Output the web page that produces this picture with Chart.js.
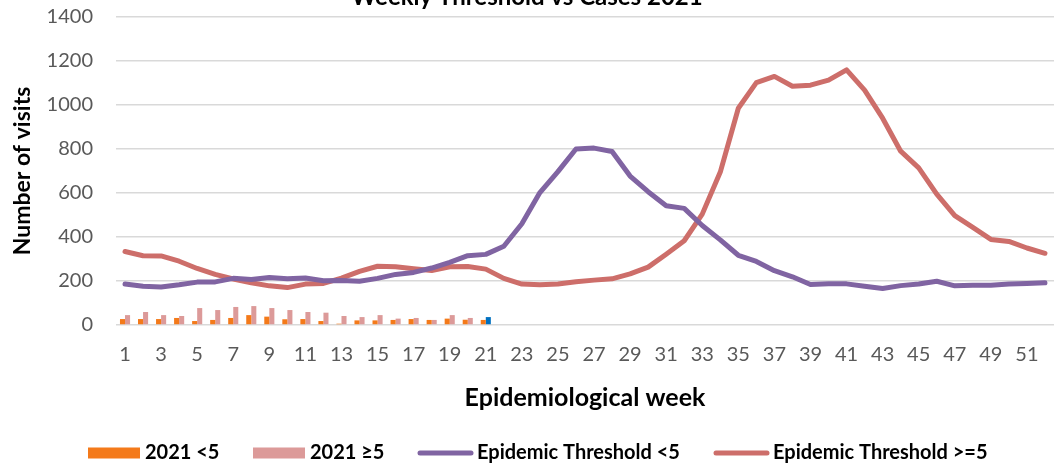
<!DOCTYPE html>
<html>
<head>
<meta charset="utf-8">
<script src="https://cdn.jsdelivr.net/npm/chart.js@4/dist/chart.umd.min.js"></script>
<style>
  html, body { margin: 0; padding: 0; background: #fff; }
  #wrap { width: 1056px; height: 464px; position: relative; }
</style>
</head>
<body>
<div id="wrap"><canvas id="chart" width="1056" height="464"></canvas></div>
<script>
// weeks 1..52
const weeks = [];
for (let w = 1; w <= 52; w++) weeks.push(String(w));

// 2021 cases (weeks 1-21 reported)
const cases2021Under5 = [27, 27, 27, 32, 18, 23, 32, 45, 38, 26, 27, 18, 6, 21, 21, 23, 27, 23, 29, 24, 23];
const cases2021Over5 = [45, 59, 45, 41, 77, 68, 82, 86, 77, 68, 59, 56, 41, 36, 45, 29, 32, 23, 45, 32, 36];

// epidemic thresholds
const thresholdUnder5 = [186, 176, 173, 183, 195, 196, 212, 207, 216, 210, 214, 201, 202, 199, 212, 230, 239, 259, 285, 315,
  321, 358, 460, 602, 697, 800, 804, 789, 677, 606, 542, 530, 452, 387, 317, 289, 247, 219, 184, 187,
  187, 176, 166, 179, 186, 199, 178, 181, 181, 186, 189, 192];
const thresholdOver5 = [334, 315, 314, 290, 257, 230, 209, 192, 178, 170, 186, 189, 213, 244, 267, 265, 256, 248, 265, 266,
  254, 212, 186, 183, 186, 197, 204, 210, 232, 263, 322, 383, 504, 695, 985, 1102, 1130, 1085, 1090, 1113,
  1160, 1068, 940, 790, 714, 595, 497, 444, 389, 380, 350, 326];

const yTicks = [0, 200, 400, 600, 800, 1000, 1200, 1400];

const ORANGE = '#F47A1A';
const PINK = '#DC9A99';
const BLUE = '#0070C0';
const PURPLE = '#8064A2';
const RED = '#CD6E6A';
const FONT = 'Lato, "Open Sans", sans-serif';

// last reported week is highlighted in blue
const pinkColors = cases2021Over5.map((v, i) => i === cases2021Over5.length - 1 ? BLUE : PINK);

// legend: symbol start x, kind
const legendItems = [
  { label: '2021 <5', color: ORANGE, kind: 'box', x: 88 },
  { label: '2021 \u22655', color: PINK, kind: 'box', x: 253 },
  { label: 'Epidemic Threshold <5', color: PURPLE, kind: 'line', x: 417 },
  { label: 'Epidemic Threshold >=5', color: RED, kind: 'line', x: 713 }
];

// cut-off title + legend at the bottom
const extras = {
  id: 'extras',
  afterDraw(chart) {
    const ctx = chart.ctx;
    ctx.save();
    ctx.fillStyle = '#000';
    ctx.font = 'bold 24px ' + FONT;
    ctx.textAlign = 'center';
    ctx.textBaseline = 'alphabetic';
    ctx.fillText('Weekly Threshold vs Cases 2021', 527, 5);

    ctx.font = 'bold 20px ' + FONT;
    ctx.textAlign = 'left';
    ctx.textBaseline = 'middle';
    const y = 453;
    legendItems.forEach(it => {
      let tx;
      if (it.kind === 'box') {
        ctx.fillStyle = it.color;
        ctx.fillRect(it.x, y - 5.5, 52, 11);
        tx = it.x + 57;
      } else {
        ctx.strokeStyle = it.color;
        ctx.lineWidth = 5;
        ctx.lineCap = 'round';
        ctx.beginPath();
        ctx.moveTo(it.x + 3, y);
        ctx.lineTo(it.x + 54, y);
        ctx.stroke();
        tx = it.x + 60;
      }
      ctx.fillStyle = '#000';
      ctx.fillText(it.label, tx, y);
    });
    ctx.restore();
  }
};

new Chart(document.getElementById('chart'), {
  type: 'bar',
  data: {
    labels: weeks,
    datasets: [
      { type: 'bar', label: '2021 <5', data: cases2021Under5, backgroundColor: ORANGE, order: 2,
        categoryPercentage: 0.56, barPercentage: 1 },
      { type: 'bar', label: '2021 \u22655', data: cases2021Over5, backgroundColor: pinkColors, order: 2,
        categoryPercentage: 0.56, barPercentage: 1 },
      { type: 'line', label: 'Epidemic Threshold <5', data: thresholdUnder5, borderColor: PURPLE, borderWidth: 5,
        pointRadius: 0, tension: 0, borderCapStyle: 'round', borderJoinStyle: 'round', order: 1 },
      { type: 'line', label: 'Epidemic Threshold >=5', data: thresholdOver5, borderColor: RED, borderWidth: 5,
        pointRadius: 0, tension: 0, borderCapStyle: 'round', borderJoinStyle: 'round', order: 1 }
    ]
  },
  options: {
    responsive: false,
    animation: false,
    layout: { padding: { top: 17, right: 2, left: 0, bottom: 0 } },
    plugins: {
      legend: { display: false },
      title: { display: false },
      tooltip: { enabled: false }
    },
    scales: {
      x: {
        grid: { display: false, drawTicks: false },
        border: { display: false },
        ticks: {
          autoSkip: false, maxRotation: 0, padding: 18,
          color: '#595959', font: { family: FONT, size: 20 },
          callback: (v, i) => (i % 2 === 0 ? weeks[i] : '')
        },
        title: {
          display: true, text: 'Epidemiological week', color: '#000',
          font: { family: FONT, size: 25, weight: 'bold' }, padding: { top: 0, bottom: 51 }
        },
        afterFit: s => { s.height = 139; s.paddingLeft = 0; s.paddingRight = 0; }
      },
      y: {
        min: 0, max: 1400,
        afterBuildTicks: s => { s.ticks = yTicks.map(v => ({ value: v })); },
        grid: { color: '#D9D9D9', lineWidth: 1.5, drawTicks: false },
        border: { display: false },
        ticks: { padding: 23, color: '#595959', font: { family: FONT, size: 20 }, callback: v => String(v) },
        title: {
          display: true, text: 'Number of visits', color: '#000',
          font: { family: FONT, size: 23, weight: 'bold' }, padding: { top: 9, bottom: 0 }
        },
        afterFit: s => { s.width = 116; s.paddingTop = 0; s.paddingBottom = 0; }
      }
    }
  },
  plugins: [extras]
});
</script>
</body>
</html>
